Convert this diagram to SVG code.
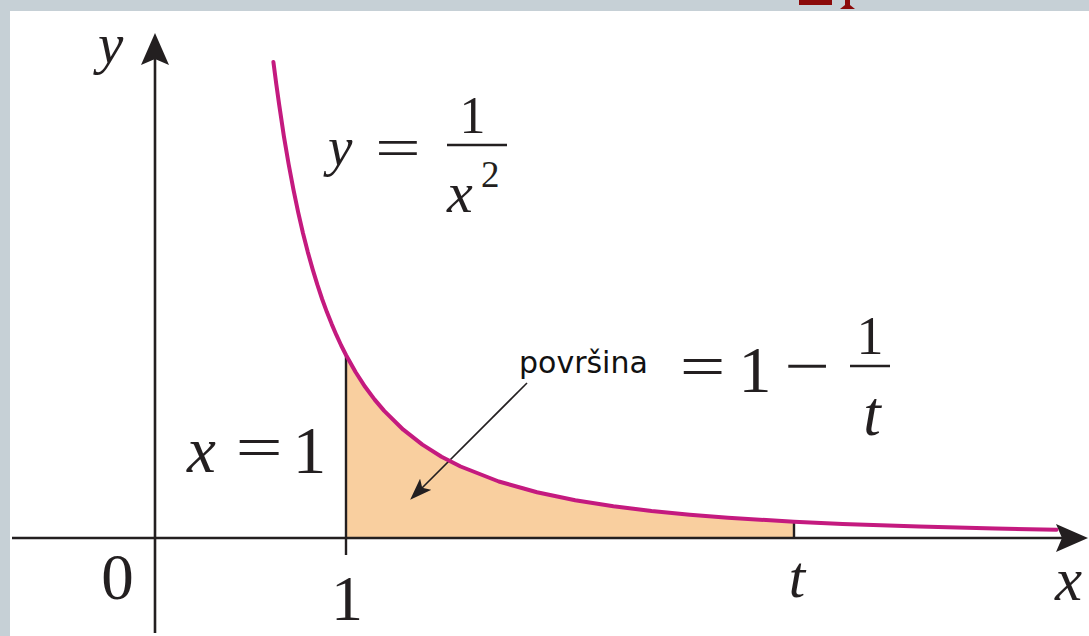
<svg xmlns="http://www.w3.org/2000/svg" width="1089" height="636" viewBox="0 0 1089 636">
<style>
.ax{stroke:#231f20;stroke-width:2.6;fill:none}
.tk{stroke:#231f20;stroke-width:2.4;fill:none}
.crv{stroke:#c41a7f;stroke-width:4;fill:none;stroke-linejoin:round;stroke-linecap:round}
.it{font-family:"Liberation Serif","Times New Roman",serif;font-style:italic;fill:#231f20}
.rm{font-family:"Liberation Serif","Times New Roman",serif;fill:#231f20}
.sans{font-family:"DejaVu Sans","Verdana",sans-serif;fill:#111}
</style>
<defs>
<marker id="axArrow" markerUnits="userSpaceOnUse" viewBox="0 0 32 28" markerWidth="32" markerHeight="28" refX="24" refY="14" orient="auto">
<path d="M0,0 L32,14 L0,28 L6,14 Z" fill="#231f20"/>
</marker>
<marker id="smArrow" markerUnits="userSpaceOnUse" viewBox="0 0 22 16" markerWidth="22" markerHeight="16" refX="18" refY="8" orient="auto">
<path d="M0,0 L22,8 L0,16 L5,8 Z" fill="#231f20"/>
</marker>
</defs>
<rect x="0" y="0" width="1089" height="636" fill="#c6d0d6"/>
<rect x="10" y="11" width="1079" height="625" fill="#ffffff"/>
<g id="topmark" fill="#8b0a0a">
<rect x="799" y="0" width="33" height="5"/>
<path d="M845,0 L850,0 L850,5 L855,9 L840,9 L845,5 Z"/>
</g>
<g id="area">
<path d="M346,538 L346,355 L355.55,372 L365.1,386.8 L374.65,399.6 L384.2,410.9 L403.3,429.7 L422.4,444.6 L441.5,456.7 L460.6,466.5 L498.8,481.5 L537,492.25 L575.2,500.2 L613.4,506.2 L651.6,510.9 L689.8,514.7 L728,517.7 L766.2,520.1 L794,521.65 L794,538 Z" fill="#f9cf9f"/>
</g>
<g id="connectors">
<line class="ax" x1="12" y1="538" x2="1080" y2="538" marker-end="url(#axArrow)"/>
<line class="ax" x1="155" y1="633" x2="155" y2="41" marker-end="url(#axArrow)"/>
<line class="tk" x1="346" y1="355" x2="346" y2="555"/>
<line class="tk" x1="794" y1="521" x2="794" y2="538"/>
<line x1="527" y1="383" x2="413" y2="497" stroke="#231f20" stroke-width="1.6" marker-end="url(#smArrow)"/>
</g>
<g id="curve">
<polyline class="crv" points="273.4,61.9 276.3,84.2 279.2,104.9 283.9,136.4 288.7,164.5 293.5,189.8 298.25,212.7 303,233.3 307.8,252.1 312.6,269.1 317.35,284.7 322.1,299 326.9,312.1 331.7,324.1 336.45,335.2 341.2,345.5 346,355 355.55,372 365.1,386.8 374.65,399.6 384.2,410.9 403.3,429.7 422.4,444.6 441.5,456.7 460.6,466.5 498.8,481.5 537,492.25 575.2,500.2 613.4,506.2 651.6,510.9 689.8,514.7 728,517.7 766.2,520.1 794,521.65 842.6,523.9 919,526.6 995.4,528.55 1056.5,529.8"/>
</g>
<g id="label-axes">
<text class="it" x="98" y="63" font-size="57">y</text>
<text class="it" x="1055" y="600" font-size="61">x</text>
<text class="rm" x="117.5" y="599" font-size="65" text-anchor="middle">0</text>
<text class="rm" x="347" y="620" font-size="64" text-anchor="middle">1</text>
<text class="it" x="797" y="597" font-size="59" text-anchor="middle">t</text>
</g>
<g id="label-function">
<text class="it" x="328" y="165" font-size="55">y</text>
<text class="rm" font-size="58" text-anchor="middle" transform="translate(398,167) scale(1.4,1)">=</text>
<text class="rm" x="472.5" y="133" font-size="52" text-anchor="middle">1</text>
<line class="tk" x1="447" y1="145" x2="507" y2="145"/>
<text class="it" x="447" y="212" font-size="58">x</text>
<text class="rm" x="481" y="187" font-size="37">2</text>
</g>
<g id="label-x1">
<text class="it" x="187" y="472" font-size="65">x</text>
<text class="rm" font-size="62" text-anchor="middle" transform="translate(259,468) scale(1.35,1)">=</text>
<text class="rm" x="309.5" y="473" font-size="67" text-anchor="middle">1</text>
</g>
<g id="label-area">
<text class="sans" x="519" y="373" font-size="30">površina</text>
<text class="rm" font-size="60" text-anchor="middle" transform="translate(702.5,386) scale(1.35,1)">=</text>
<text class="rm" x="755" y="392" font-size="66" text-anchor="middle">1</text>
<text class="rm" font-size="60" text-anchor="middle" transform="translate(807,386) scale(1.35,1)">−</text>
<text class="rm" x="870" y="354" font-size="54" text-anchor="middle">1</text>
<line class="tk" x1="850" y1="366" x2="890" y2="366"/>
<text class="it" x="872" y="435" font-size="63" text-anchor="middle">t</text>
</g>
</svg>
